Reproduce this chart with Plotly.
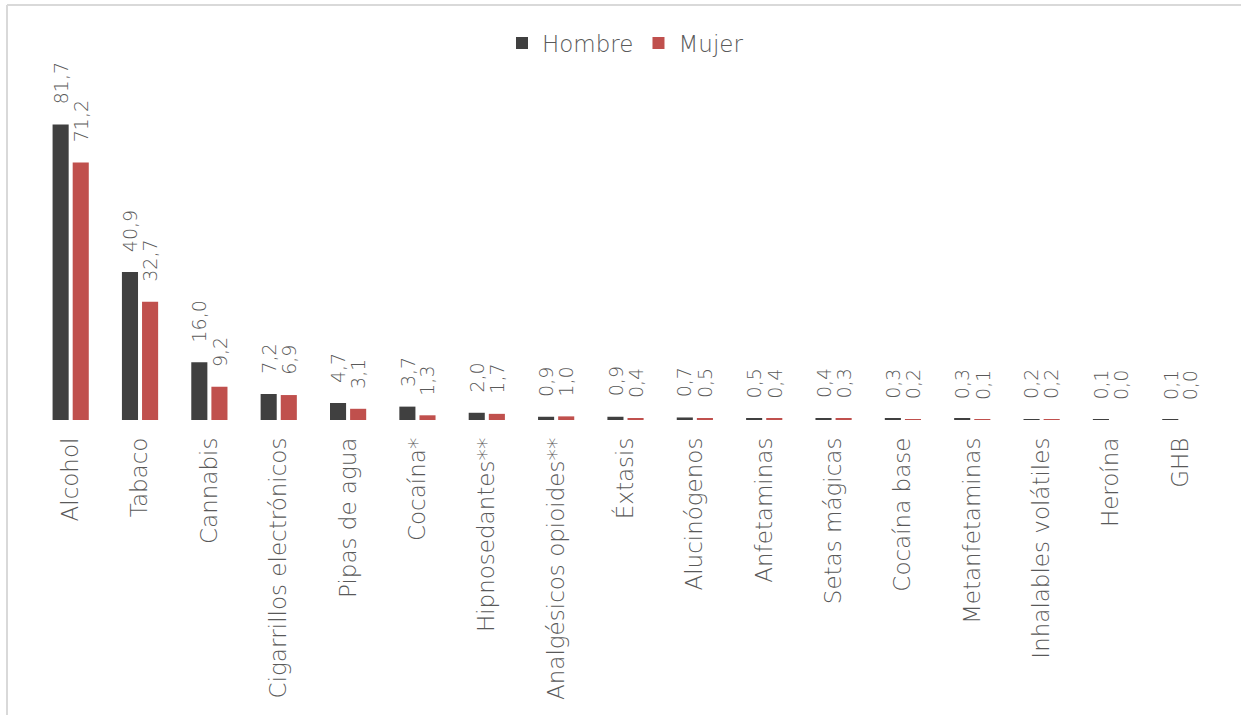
import plotly.graph_objects as go

categories = ["Alcohol", "Tabaco", "Cannabis", "Cigarrillos electrónicos", "Pipas de agua",
              "Cocaína*", "Hipnosedantes**", "Analgésicos opioides**", "Éxtasis", "Alucinógenos",
              "Anfetaminas", "Setas mágicas", "Cocaína base", "Metanfetaminas",
              "Inhalables volátiles", "Heroína", "GHB"]
hombre = [81.7, 40.9, 16.0, 7.2, 4.7, 3.7, 2.0, 0.9, 0.9, 0.7, 0.5, 0.4, 0.3, 0.3, 0.2, 0.1, 0.1]
mujer = [71.2, 32.7, 9.2, 6.9, 3.1, 1.3, 1.7, 1.0, 0.4, 0.5, 0.4, 0.3, 0.2, 0.1, 0.2, 0.0, 0.0]
series_names = ["Hombre", "Mujer"]
colors = ["#404040", "#c0504d"]

FONT = "DejaVu Sans"
TXT = "#595959"

def fmt(v):
    return f"{v:.1f}".replace(".", ",")

fig = go.Figure()
for name, vals, col in zip(series_names, [hombre, mujer], colors):
    fig.add_trace(go.Bar(name=name, x=categories, y=vals, marker=dict(color=col, line=dict(width=0))))

annotations = []
for vals, shift in [(hombre, -10), (mujer, 10)]:
    for c, v in zip(categories, vals):
        annotations.append(dict(x=c, y=v, xref="x", yref="y", text=fmt(v), showarrow=False,
                                textangle=-90, xanchor="center", yanchor="bottom",
                                xshift=shift, yshift=18,
                                font=dict(family=FONT, size=19, color=TXT, weight=200)))

L, R, T, B = 36, 26, 70, 295
W, H = 1241, 715
pw = W - L - R
ph = H - T - B

def px_to_paper_x(px):
    return (px - L) / pw

def px_to_paper_y(py):
    return (H - B - py) / ph

shapes = [
    dict(type="line", xref="paper", yref="paper", x0=px_to_paper_x(7), x1=px_to_paper_x(1250),
         y0=px_to_paper_y(5), y1=px_to_paper_y(5), line=dict(color="#d9d9d9", width=2)),
    dict(type="line", xref="paper", yref="paper", x0=px_to_paper_x(7), x1=px_to_paper_x(7),
         y0=px_to_paper_y(5), y1=px_to_paper_y(730), line=dict(color="#d9d9d9", width=2)),
]

fig.update_layout(
    width=W, height=H,
    margin=dict(l=L, r=R, t=T, b=B),
    paper_bgcolor="white", plot_bgcolor="white",
    barmode="group", bargap=0.42, bargroupgap=0.2,
    font=dict(family=FONT, color=TXT, weight=200),
    showlegend=True,
    legend=dict(orientation="h", x=0.5, xanchor="center", y=px_to_paper_y(43), yanchor="middle",
                font=dict(family=FONT, size=23, color=TXT, weight=200), itemwidth=30,
                traceorder="normal"),
    xaxis=dict(showline=False, showgrid=False, zeroline=False, ticks="", tickangle=-90,
               tickfont=dict(family=FONT, size=23, color=TXT, weight=200), ticklabelstandoff=12),
    yaxis=dict(visible=False, range=[0, 96.8], fixedrange=True),
    annotations=annotations,
    shapes=shapes,
)

fig.write_html("out.html", config={"displayModeBar": False},
               post_script="document.body.style.margin='0';document.body.style.overflow='hidden';")
